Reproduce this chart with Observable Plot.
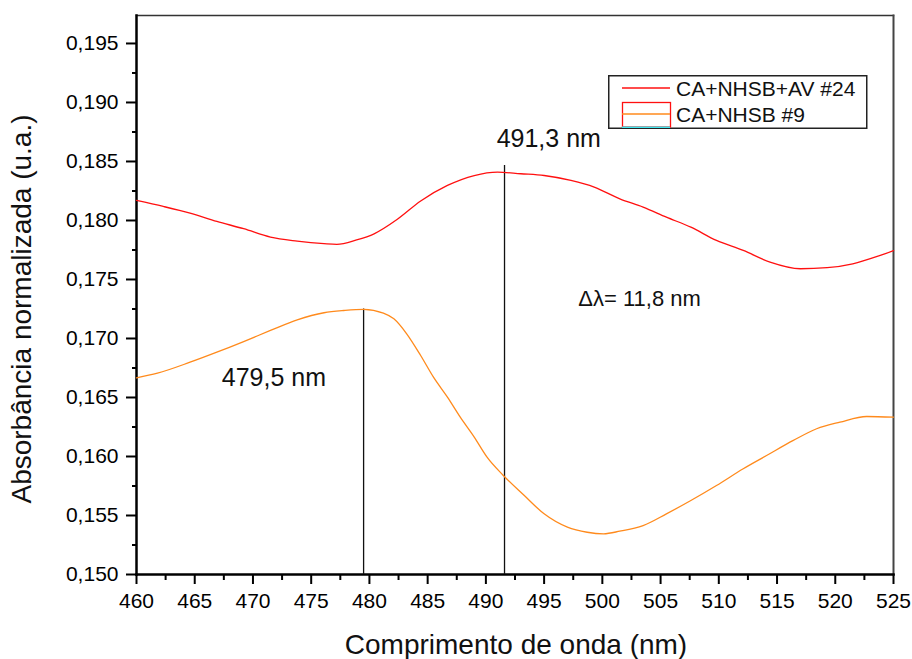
<!DOCTYPE html>
<html><head><meta charset="utf-8">
<script src="https://cdn.jsdelivr.net/npm/d3@7"></script>
<script src="https://cdn.jsdelivr.net/npm/@observablehq/plot@0.6"></script>
<style>
body{margin:0;background:#fff;}
#wrap{position:relative;width:912px;height:659px;font-family:"Liberation Sans",Arial,sans-serif;background:#fff;}
#legend{position:absolute;left:608px;top:75px;}
</style></head><body><div id="wrap"></div>
<script>
// ---- data ----
const redLabel = "CA+NHSB+AV #24";
const orangeLabel = "CA+NHSB #9";
const redWl  = [460.0,462.3,464.6,466.9,469.2,471.5,473.8,476.1,477.2,478.9,480.4,482.4,484.4,486.7,489.0,491.0,493.0,495.0,497.3,499.3,501.5,503.5,505.5,507.6,509.8,512.1,514.4,517.0,519.3,521.5,523.6,525.0];
const redAbs = [0.18170,0.18119,0.18062,0.17992,0.17930,0.17859,0.17825,0.17803,0.17797,0.17835,0.17887,0.18010,0.18165,0.18297,0.18381,0.18410,0.18396,0.18381,0.18339,0.18283,0.18183,0.18113,0.18028,0.17943,0.17831,0.17746,0.17647,0.17591,0.17600,0.17633,0.17695,0.17745];
const orangeWl  = [460.0,461.8,464.6,466.9,469.2,471.5,473.8,476.1,477.8,479.5,481.2,482.1,483.2,484.4,485.5,486.7,487.8,489.0,490.1,491.5,493.3,495.0,497.0,498.7,500.1,501.5,503.5,505.5,507.6,509.8,512.1,514.1,516.4,518.4,520.4,522.7,525.0];
const orangeAbs = [0.16667,0.16706,0.16799,0.16884,0.16974,0.17068,0.17158,0.17218,0.17237,0.17247,0.17215,0.17167,0.17040,0.16856,0.16672,0.16503,0.16333,0.16164,0.15994,0.15839,0.15669,0.15514,0.15401,0.15358,0.15345,0.15367,0.15415,0.15514,0.15627,0.15754,0.15896,0.16008,0.16136,0.16235,0.16291,0.16339,0.16333];
const peakWl  = [479.5, 491.6];
const peakTop = [0.1725, 0.18466];
const peakText = ["479,5 nm", "491,3 nm"];
const peakTextWl = [471.8, 495.4];
const peakTextAbs = [0.16665, 0.18687];
const deltaText = "Δλ= 11,8 nm";
const deltaWl = 503.2, deltaAbs = 0.17331;
const xTicks = [460,465,470,475,480,485,490,495,500,505,510,515,520,525];
const xMinor = [462.5,467.5,472.5,477.5,482.5,487.5,492.5,497.5,502.5,507.5,512.5,517.5,522.5];
const yTicks = [0.150,0.155,0.160,0.165,0.170,0.175,0.180,0.185,0.190,0.195];
const yMinor = [0.1525,0.1575,0.1625,0.1675,0.1725,0.1775,0.1825,0.1875,0.1925];
const xDomain = [460, 525];
const yDomain = [0.150, 0.19737];
const xTitle = "Comprimento de onda (nm)";
const yTitle = "Absorbância normalizada (u.a.)";

const red = redWl.map((w,i)=>({wl:w, abs:redAbs[i]}));
const orange = orangeWl.map((w,i)=>({wl:w, abs:orangeAbs[i]}));
const peaks = peakWl.map((w,i)=>({wl:w, top:peakTop[i], bottom:yDomain[0]}));
const peakLabels = peakText.map((t,i)=>({t, wl:peakTextWl[i], abs:peakTextAbs[i]}));

const font = "Liberation Sans, Arial, sans-serif";
const chart = Plot.plot({
  width: 912, height: 659,
  marginLeft: 136, marginRight: 19, marginTop: 15, marginBottom: 85,
  style: {fontFamily: font, fontSize: "21px", color: "#000", background: "#fff", overflow: "visible"},
  x: {domain: xDomain},
  y: {domain: yDomain},
  marks: [
    Plot.axisY(yTicks, {tickSize: 10, tickPadding: 8, strokeWidth: 2, fontSize: 21, label: null,
      tickFormat: d => d.toFixed(3).replace(".", ",")}),
    Plot.axisY(yMinor, {tickSize: 4, strokeWidth: 2, label: null, tickFormat: () => ""}),
    Plot.axisX(xTicks, {tickSize: 10, tickPadding: 9, strokeWidth: 2, fontSize: 21, label: null,
      tickFormat: d => String(d)}),
    Plot.axisX(xMinor, {tickSize: 6, strokeWidth: 2, label: null, tickFormat: () => ""}),
    Plot.frame({anchor: "top", stroke: "#333", strokeWidth: 1.5}),
    Plot.frame({anchor: "right", stroke: "#444", strokeWidth: 2}),
    Plot.frame({anchor: "left", stroke: "#000", strokeWidth: 2.5}),
    Plot.frame({anchor: "bottom", stroke: "#000", strokeWidth: 2.5}),
    Plot.ruleX(peaks, {x: "wl", y1: "bottom", y2: "top", stroke: "#111", strokeWidth: 1.3}),
    Plot.line(red, {x: "wl", y: "abs", stroke: "#ff1010", strokeWidth: 1.3, curve: "monotone-x"}),
    Plot.line(orange, {x: "wl", y: "abs", stroke: "#ff8a1c", strokeWidth: 1.3, curve: "monotone-x"}),
    Plot.text(peakLabels, {x: "wl", y: "abs", text: "t", fontSize: 25, fill: "#111"}),
    Plot.text([deltaText], {x: () => deltaWl, y: () => deltaAbs, text: d => d, fontSize: 22, fill: "#111"}),
    Plot.text([xTitle], {frameAnchor: "bottom", dx: 1, dy: 71, text: d => d, fontSize: 28,
      textAnchor: "middle", lineAnchor: "middle", fill: "#111"}),
    Plot.text([yTitle], {frameAnchor: "left", dx: -114, dy: 14, rotate: -90, text: d => d, fontSize: 28,
      textAnchor: "middle", lineAnchor: "middle", fill: "#111"})
  ]
});
const wrap = document.getElementById("wrap");
wrap.appendChild(chart);

// legend (Origin-style box)
const lg = document.createElementNS("http://www.w3.org/2000/svg", "svg");
lg.setAttribute("id", "legend");
lg.setAttribute("width", 260);
lg.setAttribute("height", 55);
lg.innerHTML = `
<rect x="0.75" y="0.75" width="258" height="52.5" fill="#fff" stroke="#222" stroke-width="1.5"/>
<line x1="14" x2="62" y1="13" y2="13" stroke="#ff1010" stroke-width="1.5"/>
<rect x="14.5" y="27.5" width="48" height="24.5" fill="none" stroke="#ff1010" stroke-width="1.3"/>
<line x1="14" x2="62" y1="39" y2="39" stroke="#ff8a1c" stroke-width="1.5"/>
<line x1="14" x2="62" y1="52.2" y2="52.2" stroke="#3ee8f0" stroke-width="1.5"/>
<text x="68" y="21" font-family="${font}" font-size="21" fill="#111">${redLabel}</text>
<text x="68" y="46.5" font-family="${font}" font-size="21" fill="#111">${orangeLabel}</text>`;
wrap.appendChild(lg);
</script></body></html>
